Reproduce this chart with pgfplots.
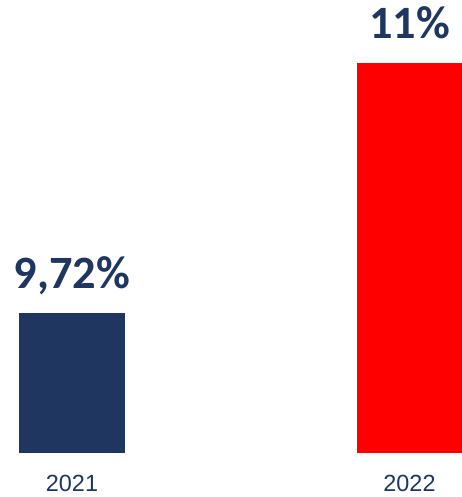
\documentclass[border=0pt]{standalone}
\usepackage{fontspec}
\setmainfont{Liberation Sans}
\newfontfamily\carlito{Carlito}
\usepackage{pgfplots}
\pgfplotsset{compat=1.18}
\definecolor{navy}{RGB}{30,54,96}
\definecolor{bred}{RGB}{255,0,0}
\begin{document}
\begin{tikzpicture}
\useasboundingbox (0,0) rectangle (462bp,497bp);
\begin{axis}[
  at={(0,44bp)}, anchor=south west,
  scale only axis, width=462bp, height=453bp,
  xmin=-0.21333, xmax=1.15556,
  ymin=9, ymax=11.323,
  ybar, bar width=0.3126,
  axis line style={draw=none},
  major tick length=0pt,
  ytick=\empty,
  xtick={0,1}, xticklabels={2021,2022},
  xticklabel style={font=\fontsize{23.5}{23.5}\selectfont, text=navy, anchor=base, yshift=-39bp, inner sep=0pt},
  clip=false,
  nodes near coords style={font=\carlito\bfseries\fontsize{46.5}{46.5}\selectfont, text=navy, anchor=base, inner sep=0pt, yshift=24bp},
]
\addplot[fill=navy, draw=none, bar shift=0pt, nodes near coords={9,72\%}] coordinates {(0,9.72)};
\addplot[fill=bred, draw=none, bar shift=0pt, nodes near coords={11\%}] coordinates {(1,11)};
\end{axis}
\end{tikzpicture}
\end{document}
